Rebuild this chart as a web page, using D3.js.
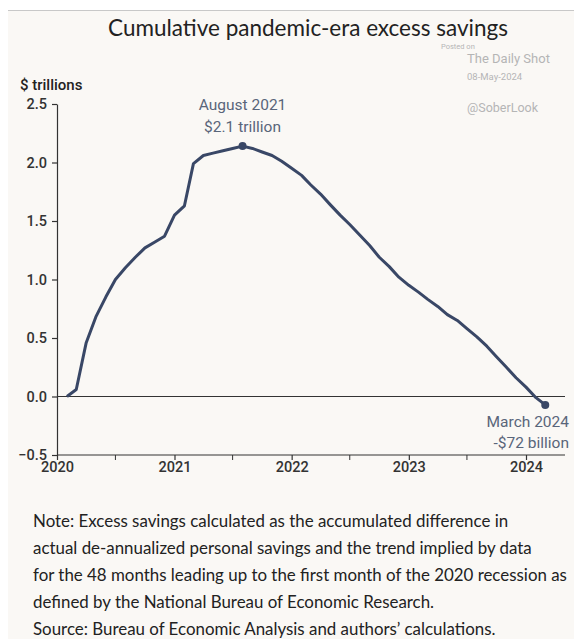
<!DOCTYPE html>
<html>
<head>
<meta charset="utf-8">
<script src="https://cdn.jsdelivr.net/npm/d3@7"></script>
<style>
  body { margin: 0; background: #ffffff; }
  .tick text { font-family: Roboto, sans-serif; fill: #333; }
</style>
</head>
<body>
<div id="chart"></div>
<script>
// Chart data (monthly, $ trillions)
var months = [
    "2020-02", "2020-03", "2020-04", "2020-05", "2020-06", "2020-07", "2020-08", "2020-09", "2020-10", "2020-11", "2020-12",
    "2021-01", "2021-02", "2021-03", "2021-04", "2021-05", "2021-06", "2021-07", "2021-08", "2021-09", "2021-10", "2021-11", "2021-12",
    "2022-01", "2022-02", "2022-03", "2022-04", "2022-05", "2022-06", "2022-07", "2022-08", "2022-09", "2022-10", "2022-11", "2022-12",
    "2023-01", "2023-02", "2023-03", "2023-04", "2023-05", "2023-06", "2023-07", "2023-08", "2023-09", "2023-10", "2023-11", "2023-12",
    "2024-01", "2024-02", "2024-03"
];
var savings = [
    0.00, 0.06, 0.46, 0.68, 0.85, 1.00, 1.10, 1.19, 1.27, 1.32, 1.37,
    1.55, 1.63, 1.99, 2.06, 2.08, 2.10, 2.12, 2.14, 2.12, 2.09, 2.06, 2.01,
    1.95, 1.89, 1.81, 1.73, 1.64, 1.55, 1.47, 1.38, 1.29, 1.19, 1.11, 1.02,
    0.95, 0.89, 0.83, 0.77, 0.70, 0.65, 0.58, 0.51, 0.43, 0.34, 0.25, 0.16,
    0.08, -0.01, -0.072
];
var yTicks = [-0.5, 0.0, 0.5, 1.0, 1.5, 2.0, 2.5];
var xYears = ["2020", "2021", "2022", "2023", "2024"];
var xHalfYears = ["2020-07", "2021-07", "2022-07", "2023-07"];
var peakLabel = ["August 2021", "$2.1 trillion"];
var endLabel = ["March 2024", "-$72 billion"];
var noteLines = [
    "Note: Excess savings calculated as the accumulated difference in",
    "actual de-annualized personal savings and the trend implied by data",
    "for the 48 months leading up to the first month of the 2020 recession as",
    "defined by the National Bureau of Economic Research.",
    "Source: Bureau of Economic Analysis and authors\u2019 calculations."
];

var svgWidth = 574;
var svgHeight = 639;

var margin = { top: 104, right: 9, bottom: 184, left: 57 };
var width = svgWidth - margin.left - margin.right;
var height = svgHeight - margin.top - margin.bottom;

var parseMonth = d3.timeParse("%Y-%m");
var parseYear = d3.timeParse("%Y");

var data = months.map(function(m, i) {
    return { date: parseMonth(m), value: savings[i] };
});

var svg = d3.select("#chart")
    .append("svg")
    .attr("width", svgWidth)
    .attr("height", svgHeight);

// panel background
svg.append("rect")
    .attr("x", 8).attr("y", 10)
    .attr("width", svgWidth - 8).attr("height", svgHeight - 10)
    .attr("fill", "#faf8f5");
svg.append("line")
    .attr("x1", 8).attr("x2", svgWidth)
    .attr("y1", 10.5).attr("y2", 10.5)
    .attr("stroke", "#c8c8c8").attr("stroke-width", 1);

// title
svg.append("text")
    .attr("x", 308).attr("y", 36)
    .attr("text-anchor", "middle")
    .attr("font-family", "Lato, sans-serif")
    .attr("font-size", "22.5px")
    .attr("fill", "#222")
    .text("Cumulative pandemic-era excess savings");

// watermark
var wm = svg.append("g")
    .attr("font-family", "Roboto, sans-serif")
    .attr("fill", "#b5b5b5");
wm.append("text").attr("x", 441).attr("y", 49).attr("font-size", "7.5px").text("Posted on");
wm.append("text").attr("x", 467).attr("y", 63).attr("font-size", "13px").text("The Daily Shot");
wm.append("text").attr("x", 467).attr("y", 80).attr("font-size", "9.5px").text("08-May-2024");
wm.append("text").attr("x", 467).attr("y", 112).attr("font-size", "12.5px").text("@SoberLook");

// y axis title
svg.append("text")
    .attr("x", 20).attr("y", 90)
    .attr("font-family", "Roboto, sans-serif")
    .attr("font-size", "15px")
    .attr("font-weight", "500")
    .attr("fill", "#222")
    .text("$ trillions");

var chartGroup = svg.append("g")
    .attr("transform", `translate(${margin.left}, ${margin.top})`);

// scales: 2020..2024 spans 469px
var yearSpan = parseYear("2024") - parseYear("2020");
var xEnd = parseMonth("2025-03");
var xTimeScale = d3.scaleTime()
    .domain([parseYear("2020"), xEnd])
    .range([0, 469 * (xEnd - parseYear("2020")) / yearSpan]);

var yLinearScale = d3.scaleLinear()
    .domain([-0.5, 2.5])
    .range([height, 0]);

// axes
var bottomAxis = d3.axisBottom(xTimeScale)
    .tickValues(xYears.map(parseYear))
    .tickFormat(d3.timeFormat("%Y"))
    .tickSize(5)
    .tickSizeOuter(0);
var leftAxis = d3.axisLeft(yLinearScale)
    .tickValues(yTicks)
    .tickFormat(d3.format(".1f"))
    .tickSize(5)
    .tickSizeOuter(0);

var xAxisG = chartGroup.append("g")
    .attr("transform", `translate(0, ${height})`)
    .call(bottomAxis);
xAxisG.select(".domain").attr("d", `M0,0H${width}`);
xAxisG.selectAll("text")
    .attr("font-size", "14.5px")
    .attr("font-weight", "500")
    .attr("y", 7)
    .attr("dy", "0.71em");

chartGroup.append("g")
    .attr("transform", `translate(0, ${height})`)
    .selectAll("line")
    .data(xHalfYears)
    .enter().append("line")
    .attr("x1", d => xTimeScale(parseMonth(d)))
    .attr("x2", d => xTimeScale(parseMonth(d)))
    .attr("y1", 0).attr("y2", 5)
    .attr("stroke", "#333");

var yAxisG = chartGroup.append("g")
    .call(leftAxis);
yAxisG.selectAll("text")
    .attr("font-size", "14.5px")
    .attr("font-weight", "500")
    .attr("x", -10);

chartGroup.selectAll(".domain, .tick line")
    .attr("stroke", "#333")
    .attr("stroke-width", 1.2);

// zero line
chartGroup.append("line")
    .attr("x1", 0).attr("x2", width)
    .attr("y1", yLinearScale(0)).attr("y2", yLinearScale(0))
    .attr("stroke", "#333")
    .attr("stroke-width", 1.2);

// savings line
var line = d3.line()
    .x(d => xTimeScale(d.date))
    .y(d => yLinearScale(d.value));

chartGroup.append("path")
    .datum(data)
    .attr("fill", "none")
    .attr("stroke", "#394766")
    .attr("stroke-width", 3)
    .attr("stroke-linejoin", "round")
    .attr("d", line);

// highlighted points
var peak = data[months.indexOf("2021-08")];
var last = data[data.length - 1];

chartGroup.selectAll(".marker")
    .data([peak, last])
    .enter().append("circle")
    .attr("class", "marker")
    .attr("cx", d => xTimeScale(d.date))
    .attr("cy", d => yLinearScale(d.value))
    .attr("r", 4)
    .attr("fill", "#394766");

// annotations
var annoFont = "Roboto, sans-serif";
chartGroup.selectAll(".peakLabel")
    .data(peakLabel)
    .enter().append("text")
    .attr("class", "peakLabel")
    .attr("x", xTimeScale(peak.date))
    .attr("y", (d, i) => yLinearScale(peak.value) - 36 + i * 22)
    .attr("text-anchor", "middle")
    .attr("font-family", annoFont)
    .attr("font-size", "15.5px")
    .attr("fill", "#59657a")
    .text(d => d);

chartGroup.selectAll(".endLabel")
    .data(endLabel)
    .enter().append("text")
    .attr("class", "endLabel")
    .attr("x", width + 4)
    .attr("y", (d, i) => yLinearScale(last.value) + 22 + i * 21)
    .attr("text-anchor", "end")
    .attr("font-family", annoFont)
    .attr("font-size", "15.5px")
    .attr("fill", "#59657a")
    .text(d => d);

// note
svg.selectAll(".note")
    .data(noteLines)
    .enter().append("text")
    .attr("class", "note")
    .attr("x", 33)
    .attr("y", (d, i) => 527 + i * 27)
    .attr("font-family", "Lato, sans-serif")
    .attr("font-size", "16.9px")
    .attr("fill", "#222")
    .text(d => d);
</script>
</body>
</html>
